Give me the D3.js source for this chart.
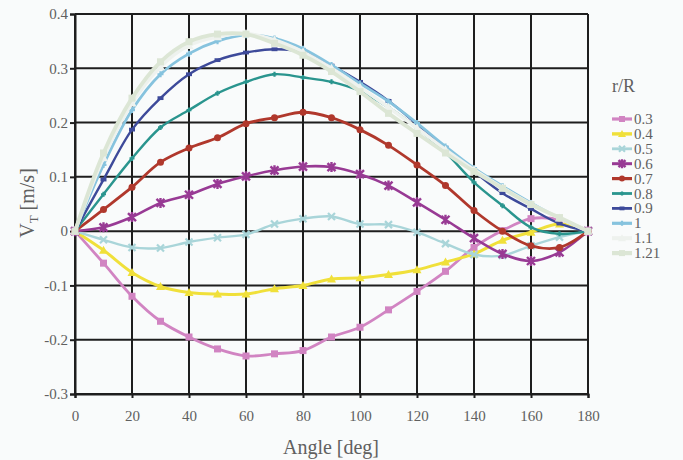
<!DOCTYPE html>
<html>
<head>
<meta charset="utf-8">
<script src="https://cdn.jsdelivr.net/npm/d3@7"></script>
<style>
  html, body { margin: 0; padding: 0; background: #f9fbfb; }
  svg text { font-family: "Liberation Serif", "Times New Roman", Times, serif; }
</style>
</head>
<body>
<svg id="chart" width="683" height="460"></svg>
<script>
// Angles at which the tangential velocity was sampled
const angles = [0, 10, 20, 30, 40, 50, 60, 70, 80, 90, 100, 110, 120, 130, 140, 150, 160, 170, 180];

// Tangential velocity V_T [m/s] for each radius ratio r/R
const r03  = [0, -0.059, -0.120, -0.166, -0.195, -0.217, -0.230, -0.226, -0.220, -0.195, -0.177, -0.145, -0.111, -0.074, -0.030, 0.001, 0.023, 0.021, 0];
const r04  = [0, -0.035, -0.076, -0.102, -0.113, -0.116, -0.116, -0.106, -0.100, -0.088, -0.086, -0.080, -0.071, -0.057, -0.042, -0.017, -0.002, 0.013, 0];
const r05  = [0, -0.016, -0.030, -0.031, -0.020, -0.012, -0.006, 0.013, 0.023, 0.027, 0.013, 0.012, -0.002, -0.023, -0.043, -0.045, -0.027, -0.011, 0];
const r06  = [0, 0.007, 0.026, 0.052, 0.067, 0.087, 0.101, 0.112, 0.119, 0.118, 0.105, 0.084, 0.053, 0.021, -0.013, -0.042, -0.055, -0.039, 0];
const r07  = [0, 0.040, 0.081, 0.127, 0.153, 0.172, 0.198, 0.209, 0.219, 0.209, 0.187, 0.158, 0.122, 0.084, 0.038, 0.000, -0.027, -0.030, 0];
const r08  = [0, 0.068, 0.134, 0.191, 0.223, 0.254, 0.275, 0.289, 0.283, 0.275, 0.258, 0.228, 0.190, 0.145, 0.090, 0.047, 0.007, -0.005, 0];
const r09  = [0, 0.095, 0.187, 0.245, 0.289, 0.315, 0.329, 0.335, 0.330, 0.305, 0.275, 0.240, 0.197, 0.153, 0.110, 0.070, 0.041, 0.014, 0];
const r10  = [0, 0.122, 0.223, 0.289, 0.327, 0.350, 0.361, 0.355, 0.336, 0.306, 0.272, 0.239, 0.199, 0.156, 0.116, 0.083, 0.052, 0.024, 0];
const r11  = [0, 0.135, 0.236, 0.303, 0.342, 0.358, 0.364, 0.352, 0.330, 0.300, 0.265, 0.228, 0.190, 0.150, 0.113, 0.080, 0.050, 0.024, 0];
const r121 = [0, 0.144, 0.245, 0.312, 0.349, 0.363, 0.363, 0.346, 0.324, 0.294, 0.257, 0.217, 0.180, 0.144, 0.110, 0.079, 0.049, 0.025, 0];

// Legend labels, one per series
const seriesLabels = ["0.3", "0.4", "0.5", "0.6", "0.7", "0.8", "0.9", "1", "1.1", "1.21"];
const seriesValues = [r03, r04, r05, r06, r07, r08, r09, r10, r11, r121];

// Axis tick values
const xTicks = [0, 20, 40, 60, 80, 100, 120, 140, 160, 180];
const yTicks = [-0.3, -0.2, -0.1, 0, 0.1, 0.2, 0.3, 0.4];

// Drawing style per series
const styles = [
  { color: "#d184c2", marker: "square",   width: 2.8, size: 7 },
  { color: "#f0e03a", marker: "triangle", width: 3.0, size: 7 },
  { color: "#a9d5d9", marker: "cross",    width: 2.4, size: 7 },
  { color: "#983a94", marker: "star",     width: 2.6, size: 8 },
  { color: "#b0382c", marker: "circle",   width: 2.8, size: 7 },
  { color: "#2a958e", marker: "plus",     width: 2.4, size: 5 },
  { color: "#3d4a9a", marker: "dash",     width: 2.4, size: 6 },
  { color: "#86c3de", marker: "plus",     width: 2.8, size: 6 },
  { color: "#eef2ee", marker: "triangle", width: 3.6, size: 7 },
  { color: "#dce6d5", marker: "square",   width: 3.8, size: 7 }
];

const FONT = "'Liberation Serif', 'Times New Roman', Times, serif";
const svg = d3.select("#chart");
const plot = { left: 75, right: 588, top: 14, bottom: 394 };

const x = d3.scaleLinear().domain([0, 180]).range([plot.left, plot.right]);
const y = d3.scaleLinear().domain([-0.3, 0.4]).range([plot.bottom, plot.top]);

const gridColor = "#1e1e1e";
const textColor = "#606060";

// Grid lines
const grid = svg.append("g");
grid.selectAll("line.v").data(xTicks).join("line")
  .attr("x1", d => x(d)).attr("x2", d => x(d))
  .attr("y1", plot.top).attr("y2", plot.bottom)
  .attr("stroke", gridColor).attr("stroke-width", 2);
grid.selectAll("line.h").data(yTicks).join("line")
  .attr("x1", plot.left).attr("x2", plot.right)
  .attr("y1", d => y(d)).attr("y2", d => y(d))
  .attr("stroke", gridColor).attr("stroke-width", 2);

// Axes
const fmtY = d => (Math.abs(d) < 1e-9 ? "0" : d.toFixed(1));
const yAxis = svg.append("g")
  .attr("transform", `translate(${plot.left},0)`)
  .call(d3.axisLeft(y).tickValues(yTicks).tickFormat(fmtY).tickSize(5).tickPadding(2));
const xAxis = svg.append("g")
  .attr("transform", `translate(0,${plot.bottom})`)
  .call(d3.axisBottom(x).tickValues(xTicks).tickFormat(d3.format("d")).tickSize(4).tickPadding(12));
[xAxis, yAxis].forEach(a => {
  a.attr("font-family", FONT).attr("font-size", 15);
  a.select(".domain").attr("stroke", gridColor).attr("stroke-width", 2);
  a.selectAll(".tick line").attr("stroke", gridColor).attr("stroke-width", 2);
  a.selectAll(".tick text").attr("fill", textColor);
});

// Axis titles
svg.append("text")
  .attr("x", 331).attr("y", 454)
  .attr("text-anchor", "middle")
  .attr("fill", textColor)
  .attr("font-family", FONT)
  .attr("font-size", 20)
  .text("Angle [deg]");

const yTitle = svg.append("text")
  .attr("transform", "translate(34,203) rotate(-90)")
  .attr("text-anchor", "middle")
  .attr("fill", textColor)
  .attr("font-family", FONT)
  .attr("font-size", 20);
yTitle.append("tspan").text("V");
yTitle.append("tspan").attr("dy", 4).attr("font-size", 13).text("T");
yTitle.append("tspan").attr("dy", -4).text(" [m/s]");

// Marker shapes
function drawMarker(g, shape, color, s) {
  const h = s / 2;
  switch (shape) {
    case "square":
      g.append("rect").attr("x", -h).attr("y", -h).attr("width", s).attr("height", s).attr("fill", color);
      break;
    case "triangle":
      g.append("path").attr("d", `M0,${-h - 1}L${h + 1},${h}L${-h - 1},${h}Z`).attr("fill", color);
      break;
    case "circle":
      g.append("circle").attr("r", h).attr("fill", color);
      break;
    case "cross":
      g.append("path").attr("d", `M${-h},${-h}L${h},${h}M${-h},${h}L${h},${-h}`)
        .attr("stroke", color).attr("stroke-width", 2.2);
      break;
    case "star":
      g.append("path").attr("d", `M${-h},${-h}L${h},${h}M${-h},${h}L${h},${-h}M0,${-h - 1}L0,${h + 1}`)
        .attr("stroke", color).attr("stroke-width", 2.4);
      break;
    case "plus":
      g.append("path").attr("d", `M${-h},0L${h},0M0,${-h}L0,${h}`)
        .attr("stroke", color).attr("stroke-width", 2.2);
      break;
    case "dash":
      g.append("path").attr("d", `M${-h},0L${h},0`)
        .attr("stroke", color).attr("stroke-width", 3.8);
      break;
  }
}

// Series lines with markers
const line = d3.line()
  .x((d, i) => x(angles[i]))
  .y(d => y(d))
  .curve(d3.curveCatmullRom.alpha(0.5));

const seriesG = svg.append("g");
seriesValues.forEach((vals, si) => {
  const st = styles[si];
  const g = seriesG.append("g");
  g.append("path")
    .datum(vals)
    .attr("d", line)
    .attr("fill", "none")
    .attr("stroke", st.color)
    .attr("stroke-width", st.width)
    .attr("stroke-linejoin", "round");
  vals.forEach((v, i) => {
    const m = g.append("g").attr("transform", `translate(${x(angles[i])},${y(v)})`);
    drawMarker(m, st.marker, st.color, st.size);
  });
});

// Legend
const legend = svg.append("g").attr("font-family", FONT);
legend.append("text")
  .attr("x", 612).attr("y", 92)
  .attr("fill", textColor)
  .attr("font-size", 18)
  .text("r/R");
seriesLabels.forEach((lab, i) => {
  const st = styles[i];
  const cy = 119 + i * 14.9;
  const item = legend.append("g").attr("transform", `translate(0,${cy})`);
  item.append("line")
    .attr("x1", 612).attr("x2", 632)
    .attr("stroke", st.color).attr("stroke-width", st.width + 0.4);
  const m = item.append("g").attr("transform", "translate(622,0)");
  drawMarker(m, st.marker, st.color, st.size - 1);
  item.append("text")
    .attr("x", 634).attr("y", 5)
    .attr("fill", textColor)
    .attr("font-size", 15)
    .text(lab);
});
</script>
</body>
</html>
